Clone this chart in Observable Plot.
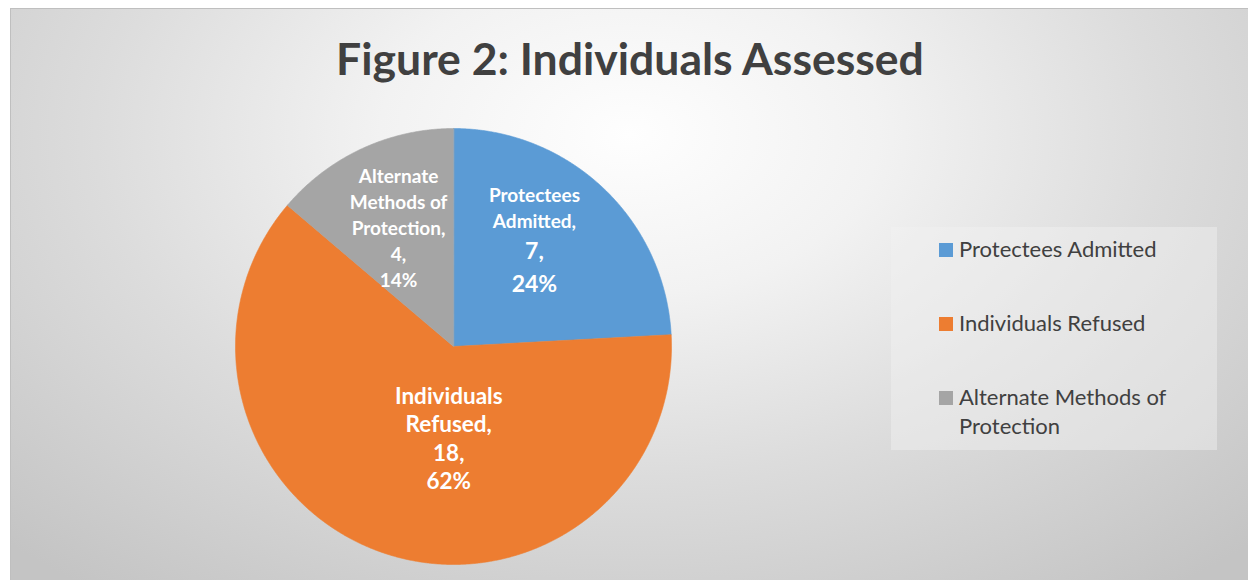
<!DOCTYPE html>
<html>
<head>
<meta charset="utf-8">
<script src="https://cdn.jsdelivr.net/npm/d3@7"></script>
<script src="https://cdn.jsdelivr.net/npm/@observablehq/plot@0.6"></script>
<style>
  html, body { margin: 0; padding: 0; background: #ffffff; width: 1248px; height: 580px; overflow: hidden; font-family: Lato, "Open Sans", sans-serif; }
  #chart {
    position: absolute; left: 10px; top: 8px; width: 1238px; height: 572px;
    box-sizing: border-box; border-top: 1px solid #bfbfbf; border-left: 1px solid #bfbfbf;
    background: radial-gradient(ellipse 72% 100% at 50% 22%, #fefefe 0%, #f2f2f2 28%, #dcdcdc 60%, #c4c4c4 100%);
    overflow: hidden;
  }
  #overlay { position: absolute; left: 0; top: 0; }
  #pie { position: absolute; left: 224px; top: 119px; }
</style>
</head>
<body>
<div id="chart">
  <svg id="overlay" width="1238" height="572"></svg>
  <div id="pie"></div>
</div>
<script>
// ---- data ----
const title = "Figure 2: Individuals Assessed";
const categories = ["Protectees Admitted", "Individuals Refused", "Alternate Methods of Protection"];
const counts = [7, 18, 4];
const percentLabels = ["24%", "62%", "14%"];
const sliceNameLines = [["Protectees", "Admitted,"], ["Individuals", "Refused,"], ["Alternate", "Methods of", "Protection,"]];
const colors = ["#5B9BD5", "#ED7D31", "#A5A5A5"];

// ---- build slices with d3.pie (angles from 12 o'clock, clockwise) ----
const slices = categories.map((name, i) => ({name, count: counts[i], pct: percentLabels[i], nameLines: sliceNameLines[i]}));
const arcs = d3.pie().sort(null).value(d => d.count)(slices);

const wedgePoints = arcs.flatMap(a => {
  const pts = [{name: a.data.name, x: 0, y: 0}];
  const n = Math.max(2, Math.ceil((a.endAngle - a.startAngle) / 0.005));
  for (let i = 0; i <= n; i++) {
    const t = a.startAngle + (a.endAngle - a.startAngle) * i / n;
    pts.push({name: a.data.name, x: Math.sin(t), y: Math.cos(t)});
  }
  return pts;
});

// label placement (Excel "best fit" look)
const labelStyle = {
  "Protectees Admitted": {nameSize: 19, valueSize: 23, gaps: [26, 31, 33], nudge: [-9, -11]},
  "Individuals Refused": {nameSize: 22.5, valueSize: 22.5, gaps: [28.3, 28.3, 28.3], nudge: [37, -32]},
  "Alternate Methods of Protection": {nameSize: 19, valueSize: 19, gaps: [26, 26, 26, 26], nudge: [0, 0]}
};
const labelR = 0.6;

const textMarks = [];
arcs.forEach(a => {
  const st = labelStyle[a.data.name];
  const lines = [
    ...a.data.nameLines.map(t => ({text: t, size: st.nameSize})),
    {text: a.data.count + ",", size: st.valueSize},
    {text: a.data.pct, size: st.valueSize}
  ];
  let yb = 0;
  lines.forEach((l, i) => { if (i > 0) yb += st.gaps[i - 1]; l.base = yb; });
  const mid = (-lines[0].size * 0.72 + yb) / 2;
  const midAngle = (a.startAngle + a.endAngle) / 2;
  const ax = labelR * Math.sin(midAngle), ay = labelR * Math.cos(midAngle);
  lines.forEach(l => {
    textMarks.push(Plot.text([a.data], {
      x: () => ax, y: () => ay, text: () => l.text,
      dx: st.nudge[0], dy: st.nudge[1] + l.base - mid,
      lineAnchor: "bottom", textAnchor: "middle",
      fill: "white", fontWeight: "bold", fontSize: l.size,
      fontFamily: "Lato, sans-serif"
    }));
  });
});

const pie = Plot.plot({
  width: 436, height: 436,
  margin: 0,
  x: {domain: [-1, 1], axis: null},
  y: {domain: [-1, 1], axis: null},
  color: {domain: categories, range: colors},
  style: {background: "transparent", overflow: "visible"},
  marks: [
    Plot.line(wedgePoints, {x: "x", y: "y", z: "name", fill: "name", stroke: "name", strokeWidth: 0.6, curve: "linear-closed"}),
    ...textMarks
  ]
});
document.getElementById("pie").appendChild(pie);

// ---- title and legend ----
const svg = d3.select("#overlay");
svg.append("text")
  .attr("x", 619).attr("y", 66)
  .attr("text-anchor", "middle")
  .attr("font-family", "Lato, sans-serif")
  .attr("font-weight", "bold").attr("font-size", 44.5)
  .attr("fill", "#404040")
  .text(title);

const lg = svg.append("g");
lg.append("rect").attr("x", 880).attr("y", 218).attr("width", 326).attr("height", 223)
  .attr("fill", "#f2f2f2").attr("fill-opacity", 0.45);
const legendBaselines = [248, 322, 396];
function wrapLabel(s, maxChars) {
  if (s.length <= maxChars) return [s];
  const cut = s.lastIndexOf(" ", maxChars);
  return [s.slice(0, cut), s.slice(cut + 1)];
}
categories.forEach((c, i) => {
  const b = legendBaselines[i];
  lg.append("rect").attr("x", 928).attr("y", b - 14).attr("width", 14).attr("height", 14).attr("fill", colors[i]);
  const t = lg.append("text").attr("x", 948).attr("y", b)
    .attr("font-family", "Lato, sans-serif").attr("font-size", 22).attr("fill", "#404040");
  wrapLabel(c, 21).forEach((line, j) => {
    t.append("tspan").attr("x", 948).attr("y", b + j * 29).text(line);
  });
});
</script>
</body>
</html>
